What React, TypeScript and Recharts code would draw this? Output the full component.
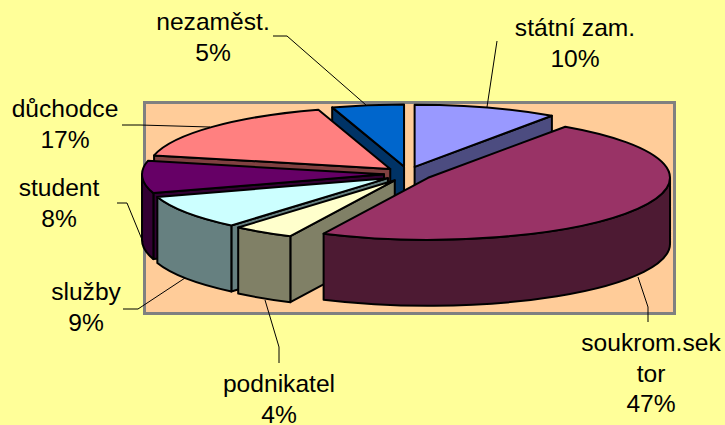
import React from "react";
import { PieChart, Pie } from "recharts";

// Chart values, clockwise from the top of the pie
const categories = ["státní zam.", "soukrom.sektor", "podnikatel", "služby", "student", "důchodce", "nezaměst."];
const values = [9.6, 47.5, 4.1, 8.9, 8.4, 16.7, 4.8];
const topColors = ["#9999FF", "#993366", "#FFFFCC", "#CCFFFF", "#660066", "#FF8080", "#0066CC"];
const sideColors = ["#4C4C80", "#4D1A33", "#808066", "#668080", "#330033", "#804040", "#003366"];
const labelLines = [["státní zam."], ["soukrom.sek", "tor"], ["podnikatel"], ["služby"], ["student"], ["důchodce"], ["nezaměst."]];
const percentLabels = ["10%", "47%", "4%", "9%", "8%", "17%", "5%"];

// Label layout: [centre x, first baseline]
const labelAnchors = [[575, 36], [651, 351], [279, 392], [86, 300], [59, 196], [65, 117], [213, 30]];
const leaderLines = [
  [[497, 41], [487, 107]],
  [[638, 277], [648, 307], [648, 322]],
  [[265, 300], [279, 347], [279, 363]],
  [[123, 309], [138, 309], [185, 278]],
  [[117, 203], [127, 203], [143, 242]],
  [[122, 125], [140, 125], [210, 127]],
  [[273, 36], [287, 36], [366, 105]],
];

// Painter's order: back slices first. The pie runs counter-clockwise from the end of
// "státní zam.", so "soukrom.sektor" is painted last and overlaps its neighbours.
const order = [0, 6, 5, 4, 3, 2, 1];
const table = order.map((i) => ({
  name: categories[i],
  value: values[i],
  top: topColors[i],
  side: sideColors[i],
  index: i,
}));
const total = values.reduce((a, b) => a + b, 0);
const START = 90 - (values[0] / total) * 360;

const W = 725;
const H = 425;
const SQUASH = 62 / 242;
const DEPTH = 66;
const EXPLODE_X = 23.6;
const EXPLODE_Y = 7.5;
const rad = Math.PI / 180;

function Slice3D(props: any) {
  const { cx, cy, outerRadius, startAngle, endAngle, payload } = props;
  let t1 = 90 - Math.max(startAngle, endAngle);
  let t2 = 90 - Math.min(startAngle, endAngle);
  while (t1 < 0) {
    t1 += 360;
    t2 += 360;
  }
  const rx = outerRadius;
  const ry = outerRadius * SQUASH;
  const mid = ((t1 + t2) / 2) * rad;
  const ax = cx + EXPLODE_X * Math.sin(mid);
  const ay = cy - EXPLODE_Y * Math.cos(mid);
  const pt = (t: number, dy = 0) => [ax + rx * Math.sin(t * rad), ay - ry * Math.cos(t * rad) + dy];
  const p = (q: number[]) => `${q[0].toFixed(2)} ${q[1].toFixed(2)}`;
  const wall = (t: number) =>
    `M${ax} ${ay} L${p(pt(t))} L${p(pt(t, DEPTH))} L${ax} ${ay + DEPTH} Z`;
  const common = { stroke: "#000", strokeWidth: 2, strokeLinejoin: "round" as const };
  const fa = Math.max(t1, 90);
  const fb = Math.min(t2, 270);
  return (
    <g>
      {Math.sin(t1 * rad) < 0 && <path d={wall(t1)} fill={payload.side} {...common} />}
      {Math.sin(t2 * rad) > 0 && <path d={wall(t2)} fill={payload.side} {...common} />}
      {fa < fb && (
        <path
          d={`M${p(pt(fa))} A${rx} ${ry} 0 0 1 ${p(pt(fb))} L${p(pt(fb, DEPTH))} A${rx} ${ry} 0 0 0 ${p(pt(fa, DEPTH))} Z`}
          fill={payload.side}
          {...common}
        />
      )}
      <path d={`M${ax} ${ay} L${p(pt(t1))} A${rx} ${ry} 0 0 1 ${p(pt(t2))} Z`} fill={payload.top} {...common} />
    </g>
  );
}

function SliceLabel(props: any) {
  const i = props.payload.index;
  const [x, y] = labelAnchors[i];
  const lines = [...labelLines[i], percentLabels[i]];
  return (
    <text x={x} y={y} textAnchor="middle" fontFamily="'Liberation Sans', Arial, sans-serif" fontSize={24.6} fill="#000">
      {lines.map((l, k) => (
        <tspan key={k} x={x} y={y + k * 30.7}>
          {l}
        </tspan>
      ))}
    </text>
  );
}

function LeaderLine(props: any) {
  const pts = leaderLines[props.payload.index];
  return <polyline points={pts.map((q) => q.join(",")).join(" ")} fill="none" stroke="#000" strokeWidth={1} />;
}

export default function App() {
  return (
    <div style={{ position: "absolute", left: 0, top: 0, width: W, height: H, background: "#FFFF99", overflow: "hidden" }}>
      <div
        style={{
          position: "absolute",
          left: 143,
          top: 101,
          width: 527,
          height: 208,
          background: "#FFCC99",
          border: "3px solid #808080",
        }}
      />
      <div style={{ position: "absolute", left: 0, top: 0 }}>
        <PieChart width={W} height={H} margin={{ top: 0, right: 0, bottom: 0, left: 0 }}>
          <Pie
            data={table}
            dataKey="value"
            nameKey="name"
            cx={407.6}
            cy={174}
            outerRadius={242}
            innerRadius={0}
            startAngle={START}
            endAngle={START + 360}
            isAnimationActive={false}
            shape={Slice3D}
            label={SliceLabel}
            labelLine={LeaderLine}
            stroke="none"
          />
        </PieChart>
      </div>
    </div>
  );
}
